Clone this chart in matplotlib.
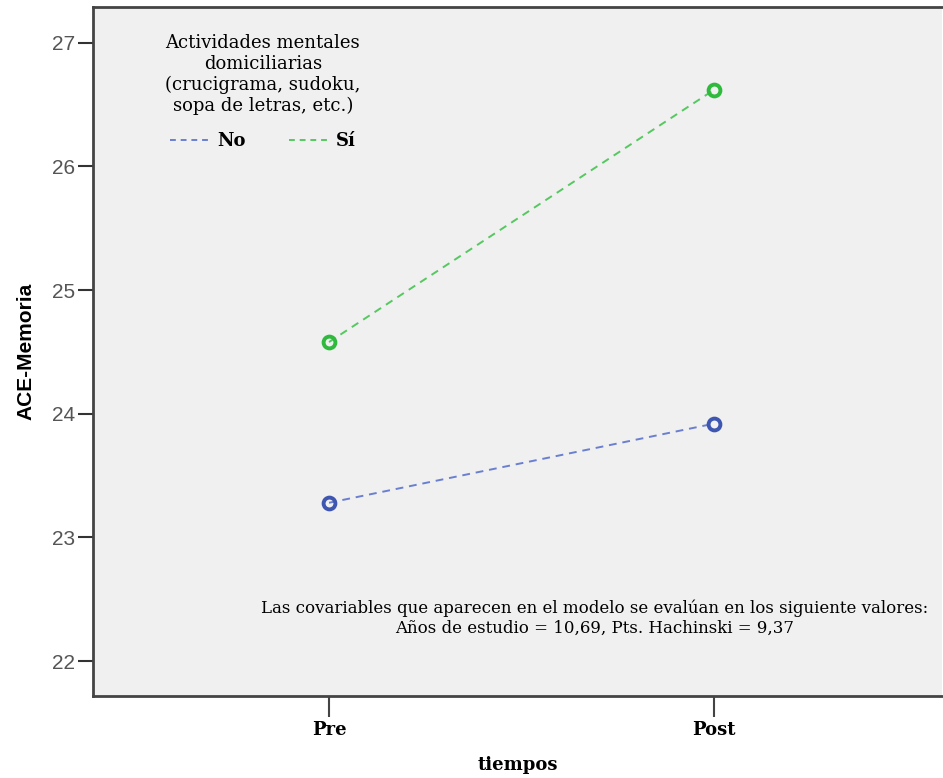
import matplotlib
matplotlib.use("Agg")
import matplotlib.pyplot as plt
from matplotlib.lines import Line2D

# Estimated marginal means of ACE-Memoria
tiempos = ["Pre", "Post"]
grupos = ["No", "Sí"]
medias_no = [23.28, 23.92]
medias_si = [24.58, 26.62]
yticks = [22, 23, 24, 25, 26, 27]

col_no = "#3f56b0"
col_si = "#2fb93d"
line_no = "#6a7fd0"
line_si = "#55c860"

fig = plt.figure(figsize=(9.43, 7.78), dpi=100)
ax = fig.add_axes([93 / 943, 1 - 696 / 778, (942 - 93) / 943, (696 - 7) / 778])
ax.set_facecolor("#f0f0f0")

x = list(range(len(tiempos)))
for vals, cm, cl in [(medias_no, col_no, line_no), (medias_si, col_si, line_si)]:
    ax.plot(x, vals, linestyle=(0, (4, 3)), color=cl, linewidth=1.4, zorder=2)
    ax.plot(x, vals, linestyle="none", marker="o", markersize=8.5,
            markerfacecolor="none", markeredgecolor=cm, markeredgewidth=2.8, zorder=3)

ax.set_xlim(-0.613, 1.592)
ax.set_ylim(21.717, 27.29)
ax.set_yticks(yticks)
ax.set_yticklabels([str(v) for v in yticks], fontsize=15,
                   family="Liberation Sans", color="#555555")
ax.set_xticks(x)
ax.set_xticklabels(tiempos, fontsize=13, family="DejaVu Serif", fontweight="bold")

ax.tick_params(axis="y", length=11, width=1.5, color="#333333", pad=2)
ax.tick_params(axis="x", length=15, width=1.5, color="#444444", pad=3)

for s in ["left", "bottom", "top"]:
    ax.spines[s].set_linewidth(2)
    ax.spines[s].set_color("#444444")
ax.spines["right"].set_visible(False)

ax.set_ylabel("ACE-Memoria", fontsize=15, family="Liberation Sans",
              fontweight="bold", labelpad=12)
ax.set_xlabel("tiempos", fontsize=13, family="DejaVu Serif",
              fontweight="bold", labelpad=12)

handles = [Line2D([0], [0], linestyle=(0, (3, 2.5)), color=line_no, linewidth=1.4),
           Line2D([0], [0], linestyle=(0, (3, 2.5)), color=line_si, linewidth=1.4)]
leg = ax.legend(handles, grupos, ncol=2, frameon=False,
                title="Actividades mentales\ndomiciliarias\n(crucigrama, sudoku,\nsopa de letras, etc.)",
                loc="upper center", bbox_to_anchor=(0.2, 0.985),
                prop={"family": "DejaVu Serif", "size": 13, "weight": "bold"},
                title_fontproperties={"family": "DejaVu Serif", "size": 13},
                handlelength=2.3, handletextpad=0.3, columnspacing=2.4)
leg.get_title().set_multialignment("center")
leg.get_title().set_linespacing(1.22)
leg._legend_box.sep = 12

ax.text(0.591, 0.140,
        "Las covariables que aparecen en el modelo se evalúan en los siguiente valores:\n"
        "Años de estudio = 10,69, Pts. Hachinski = 9,37",
        transform=ax.transAxes, ha="center", va="top", fontsize=12,
        family="DejaVu Serif", linespacing=1.25)

fig.savefig("out.png", dpi=100, facecolor="white")
